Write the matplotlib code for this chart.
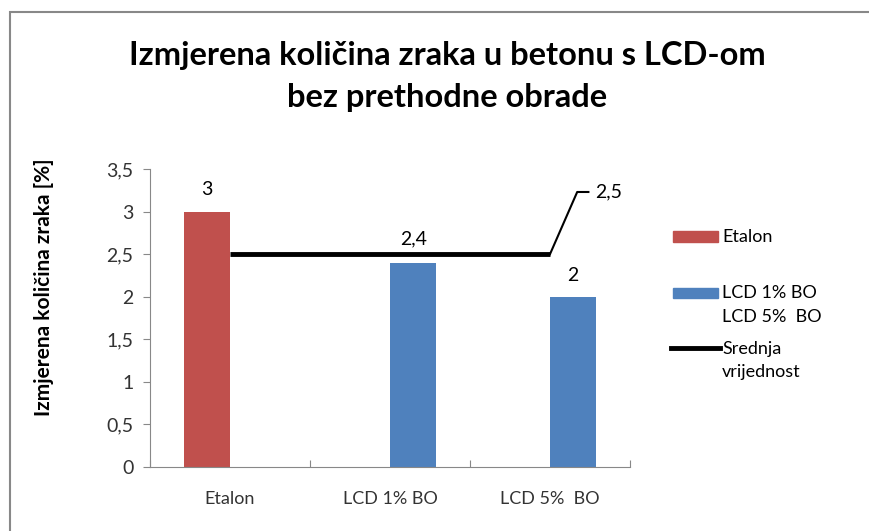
import matplotlib
matplotlib.use('Agg')
import matplotlib.pyplot as plt
from matplotlib.patches import Rectangle
from matplotlib.lines import Line2D
import numpy as np

plt.rcParams['font.family'] = ['Lato', 'DejaVu Sans']

# data
categories = ['Etalon', 'LCD 1% BO', 'LCD 5%  BO']
etalon = [3.0, 0, 0]
lcd = [0, 2.4, 2.0]
srednja = [2.5, 2.5, 2.5]
yticks = [0, 0.5, 1, 1.5, 2, 2.5, 3, 3.5]
legend_labels = ['Etalon', 'LCD 1% BO\nLCD 5%  BO', 'Srednja\nvrijednost']

red = '#c0504d'
blue = '#4f81bd'
W, H = 869, 531

def fx(px):
    return px / W

def fy(py):
    return 1 - py / H

fig = plt.figure(figsize=(8.69, 5.31), dpi=100)
ax = fig.add_axes([fx(150), fy(467), 480/W, 298/H])

x = np.arange(len(categories))
w = 0.29
ax.bar(x - w/2, etalon, w, color=red)
ax.bar(x + w/2, lcd, w, color=blue)
ax.plot(x, srednja, color='black', lw=3.5, solid_capstyle='butt')

ax.set_xlim(-0.5, 2.5)
ax.set_ylim(0, 3.5)
ax.set_yticks(yticks)
ax.set_yticklabels([('%g' % v).replace('.', ',') for v in yticks], fontsize=14, color='#333333')
ax.set_xticks([-0.5, 0.5, 1.5, 2.5])
ax.set_xticklabels([])
ax.set_xticks(x, minor=True)
ax.set_xticklabels(categories, minor=True, fontsize=13, color='#333333')
ax.tick_params(axis='x', which='minor', length=0, pad=17)
ax.tick_params(axis='x', which='major', length=5, direction='in', color='#888888')
ax.tick_params(axis='y', length=5, direction='out', color='#888888', pad=7)
for s in ['top', 'right']:
    ax.spines[s].set_visible(False)
for s in ['left', 'bottom']:
    ax.spines[s].set_color('#888888')

# data labels
ax.annotate('3', (x[0] - w/2, etalon[0]), xytext=(0, 12), textcoords='offset points',
            ha='center', va='baseline', fontsize=14)
ax.annotate('2,4', (x[1] + w/2, lcd[1]), xytext=(0, 13), textcoords='offset points',
            ha='center', va='baseline', fontsize=14)
ax.annotate('2', (x[2] + w/2, lcd[2]), xytext=(0, 11), textcoords='offset points',
            ha='center', va='baseline', fontsize=14)
ax.plot([x[2], 2.17, 2.24], [srednja[2], 3.23, 3.23], color='black', lw=1.5, clip_on=False)
ax.text(2.28, 3.23, '2,5', ha='left', va='center', fontsize=14)

ax.set_ylabel('Izmjerena količina zraka [%]', fontsize=15, fontweight='bold')
ax.yaxis.set_label_coords((54 - 150) / 480, (467 - 287) / 298)

fig.text(fx(447), fy(55), 'Izmjerena količina zraka u betonu s LCD-om',
         ha='center', va='center', fontsize=23.5, fontweight='bold')
fig.text(fx(447), fy(98), 'bez prethodne obrade',
         ha='center', va='center', fontsize=23.5, fontweight='bold')

# legend, drawn by hand to follow the original spacing
fig.add_artist(Rectangle((fx(673), fy(242)), 45/W, 11/H, transform=fig.transFigure,
                         color=red))
fig.add_artist(Rectangle((fx(673), fy(298)), 45/W, 10/H, transform=fig.transFigure,
                         color=blue))
fig.add_artist(Line2D([fx(671), fx(720)], [fy(348), fy(348)], transform=fig.transFigure,
                      color='black', lw=3.5))
fig.text(fx(722), fy(236.5), legend_labels[0], ha='left', va='center', fontsize=13)
fig.text(fx(722), fy(305), legend_labels[1], ha='left', va='center', fontsize=13,
         linespacing=1.55)
fig.text(fx(722), fy(360.5), legend_labels[2], ha='left', va='center', fontsize=13,
         linespacing=1.55)

fig.add_artist(Rectangle((fx(10), -0.05), 1.0, 1 - 12/H + 0.05, transform=fig.transFigure,
                         fill=False, edgecolor='#888888', lw=1.5))

fig.savefig('out.png', dpi=100)
